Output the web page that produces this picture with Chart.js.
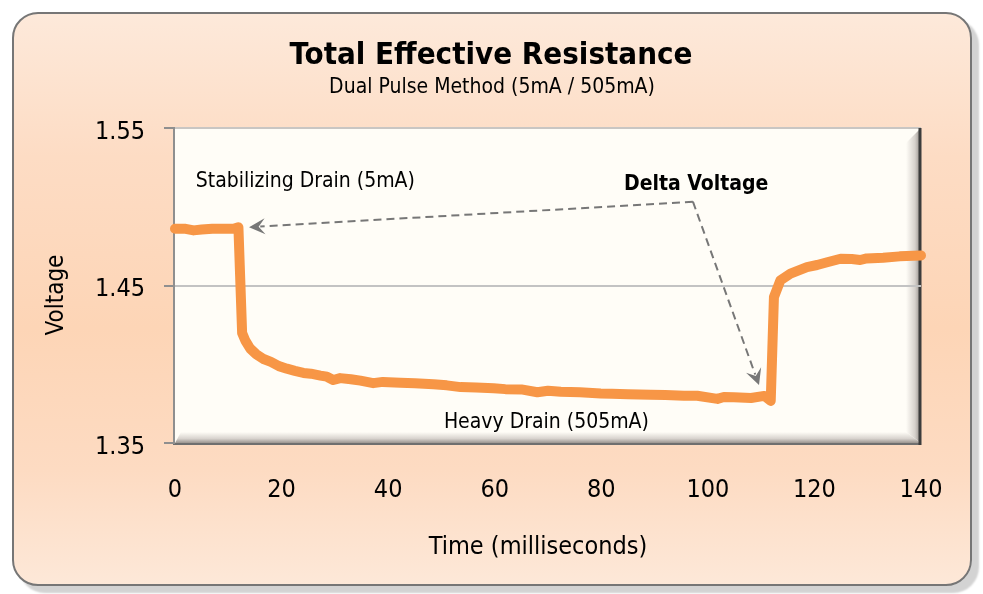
<!DOCTYPE html>
<html>
<head>
<meta charset="utf-8">
<script src="https://cdn.jsdelivr.net/npm/chart.js@4.4.0/dist/chart.umd.min.js"></script>
<style>
html,body{margin:0;padding:0;background:#fff;width:983px;height:594px;overflow:hidden}
#frame{position:absolute;left:12px;top:12px;width:956px;height:570px;border:2px solid #767676;border-radius:26px;
background:linear-gradient(to bottom,#fde9da 0%,#fddcc4 25%,#fdd5b6 55%,#fddbc2 80%,#fde8d8 100%);box-shadow:7px 7px 2px #d3d3d3;}
#wrap{position:absolute;left:0;top:0;width:983px;height:594px}
</style>
</head>
<body>
<div id="frame"></div>
<div id="wrap"><canvas id="c" width="983" height="594"></canvas></div>
<script>
const chartTitle = 'Total Effective Resistance';
const chartSubtitle = 'Dual Pulse Method (5mA / 505mA)';
const xTitle = 'Time (milliseconds)';
const yTitle = 'Voltage';
const xTicks = [0, 20, 40, 60, 80, 100, 120, 140];
const yTicks = [1.35, 1.45, 1.55];

const times = [0, 2, 3.5, 5, 7, 9, 11, 11.9,
  12.6, 13.2, 14.1, 15.2, 16.5, 18, 19.5, 21, 22.5, 24.1,
  25.5, 27.3, 28.5, 29.7, 31, 33, 34.8, 37.2, 39, 42.3,
  45, 48.5, 51, 53.6, 56.5, 59.8, 62, 65, 68, 70,
  72.4, 76, 79.9, 82, 85, 89.3, 92, 95.5, 98, 101.8,
  103, 104.9, 108.1, 110.6, 111.8, 112.4, 113.6, 115.5, 118.6, 120.5,
  122.4, 124.9, 127, 128.6, 129.8, 132.9, 136, 140];
const volts = [1.4860, 1.4860, 1.4850, 1.4855, 1.4860, 1.4860, 1.4860, 1.4870,
  1.4198, 1.4150, 1.4100, 1.4065, 1.4035, 1.4015, 1.3988, 1.3972, 1.3958, 1.3945,
  1.3940, 1.3928, 1.3921, 1.3900, 1.3912, 1.3905, 1.3896, 1.3880, 1.3888, 1.3883,
  1.3880, 1.3873, 1.3866, 1.3855, 1.3852, 1.3847, 1.3842, 1.3840, 1.3822, 1.3832,
  1.3826, 1.3822, 1.3815, 1.3813, 1.3810, 1.3806, 1.3804, 1.3800, 1.3800, 1.3780,
  1.3792, 1.3790, 1.3786, 1.3799, 1.3767, 1.4426, 1.4532, 1.4575, 1.4617, 1.4630,
  1.4648, 1.4670, 1.4668, 1.4662, 1.4672, 1.4676, 1.4685, 1.4691];

// annotation labels (position in data units: time, voltage)
const labelTexts = ['Stabilizing Drain (5mA)', 'Delta Voltage', 'Heavy Drain (505mA)'];
const labelAt = [[3.9, 1.5125], [97.8, 1.5106], [69.7, 1.3593]];
// arrows: shared start point and two tips (data units)
const arrowFrom = [97.2, 1.5032];
const arrowTips = [[13.9, 1.4870], [109.6, 1.3868]];

const COND = "'DejaVu Sans Condensed', 'DejaVu Sans', sans-serif";

const points = times.map((t, i) => ({x: t, y: volts[i]}));

const framePlugin = {
  id: 'frame',
  beforeDraw(chart) {
    const ctx = chart.ctx;
    const {left: L, right: R, top: T, bottom: B} = chart.chartArea;
    ctx.save();
    ctx.fillStyle = '#fffdf7';
    ctx.fillRect(L, T, R - L, B - T);
    const d = 15, e = 11;
    let g = ctx.createLinearGradient(R - d, 0, R, 0);
    g.addColorStop(0, 'rgba(255,253,247,1)');
    g.addColorStop(0.6, '#d6d1cc');
    g.addColorStop(1, '#8d8782');
    ctx.fillStyle = g;
    ctx.beginPath();
    ctx.moveTo(R, T); ctx.lineTo(R, B); ctx.lineTo(R - d, B - e); ctx.lineTo(R - d, T + d); ctx.closePath();
    ctx.fill();
    g = ctx.createLinearGradient(0, B - e, 0, B);
    g.addColorStop(0, 'rgba(255,253,247,1)');
    g.addColorStop(0.6, '#d8d3ce');
    g.addColorStop(1, '#9a948f');
    ctx.fillStyle = g;
    ctx.beginPath();
    ctx.moveTo(L, B); ctx.lineTo(R, B); ctx.lineTo(R - d, B - e); ctx.lineTo(L + 6, B - e); ctx.closePath();
    ctx.fill();
    ctx.strokeStyle = '#c9c6c3'; ctx.lineWidth = 2;
    ctx.beginPath(); ctx.moveTo(L, T); ctx.lineTo(R, T); ctx.stroke();
    ctx.strokeStyle = '#8f8f8f'; ctx.lineWidth = 2;
    ctx.beginPath(); ctx.moveTo(L - 1, T); ctx.lineTo(L - 1, B + 1); ctx.stroke();
    ctx.strokeStyle = '#6f6f6f'; ctx.lineWidth = 2;
    ctx.beginPath(); ctx.moveTo(L - 2, B + 1); ctx.lineTo(R, B + 1); ctx.stroke();
    ctx.strokeStyle = '#3c3c3c'; ctx.lineWidth = 3;
    ctx.beginPath(); ctx.moveTo(R - 1, T); ctx.lineTo(R - 1, B + 2); ctx.stroke();
    ctx.restore();
  }
};

function arrowHead(ctx, x, y, ang, len, w) {
  ctx.save();
  ctx.translate(x, y);
  ctx.rotate(ang);
  ctx.beginPath();
  ctx.moveTo(0, 0);
  ctx.lineTo(-len, -w);
  ctx.lineTo(-len * 0.6, 0);
  ctx.lineTo(-len, w);
  ctx.closePath();
  ctx.fill();
  ctx.restore();
}

const textPlugin = {
  id: 'texts',
  afterDatasetsDraw(chart) {
    const ctx = chart.ctx;
    const xs = chart.scales.x, ys = chart.scales.y;
    ctx.save();
    ctx.fillStyle = '#000';
    ctx.textAlign = 'center';
    ctx.textBaseline = 'alphabetic';
    ctx.font = "bold 31px " + COND;
    ctx.fillText(chartTitle, 491, 64);
    ctx.font = "21px " + COND;
    ctx.fillText(chartSubtitle, 492, 93);
    // axis titles
    ctx.font = "25px " + COND;
    ctx.fillText(xTitle, 538, 554);
    ctx.save();
    ctx.translate(63, 295);
    ctx.rotate(-Math.PI / 2);
    ctx.font = "24px " + COND;
    ctx.fillText(yTitle, 0, 0);
    ctx.restore();
    // arrows
    const fx = xs.getPixelForValue(arrowFrom[0]), fy = ys.getPixelForValue(arrowFrom[1]);
    ctx.strokeStyle = '#777777';
    ctx.fillStyle = '#777777';
    ctx.lineWidth = 2;
    arrowTips.forEach(tp => {
      const tx = xs.getPixelForValue(tp[0]), ty = ys.getPixelForValue(tp[1]);
      const ang = Math.atan2(ty - fy, tx - fx);
      const len = 16;
      const ex = tx - Math.cos(ang) * len * 0.7, ey = ty - Math.sin(ang) * len * 0.7;
      ctx.setLineDash([8, 5]);
      ctx.beginPath(); ctx.moveTo(fx, fy); ctx.lineTo(ex, ey); ctx.stroke();
      ctx.setLineDash([]);
      arrowHead(ctx, tx, ty, ang, len, 8);
    });
    // labels
    ctx.fillStyle = '#000';
    ctx.font = "21px " + COND;
    ctx.textAlign = 'left';
    ctx.fillText(labelTexts[0], xs.getPixelForValue(labelAt[0][0]), ys.getPixelForValue(labelAt[0][1]));
    ctx.font = "bold 21px " + COND;
    ctx.textAlign = 'center';
    ctx.fillText(labelTexts[1], xs.getPixelForValue(labelAt[1][0]), ys.getPixelForValue(labelAt[1][1]));
    ctx.font = "21px " + COND;
    ctx.fillText(labelTexts[2], xs.getPixelForValue(labelAt[2][0]), ys.getPixelForValue(labelAt[2][1]));
    ctx.restore();
  }
};

new Chart(document.getElementById('c'), {
  type: 'line',
  data: {
    datasets: [{
      data: points,
      borderColor: '#f79646',
      borderWidth: 10,
      pointRadius: 0,
      tension: 0,
      borderJoinStyle: 'round',
      borderCapStyle: 'round',
      clip: false
    }]
  },
  options: {
    responsive: false,
    animation: false,
    devicePixelRatio: 1,
    layout: {padding: {left: 20, right: 62, top: 128, bottom: 21}},
    plugins: {legend: {display: false}, tooltip: {enabled: false}, title: {display: false}},
    scales: {
      x: {
        type: 'linear',
        min: 0, max: 140,
        afterBuildTicks: s => { s.ticks = xTicks.map(v => ({value: v})); },
        afterFit: s => { s.height = 130; },
        grid: {display: false, drawTicks: false},
        border: {display: false},
        ticks: {color: '#000', font: {family: COND, size: 25}, padding: 32, maxRotation: 0},
        title: {display: false}
      },
      y: {
        type: 'linear',
        min: 1.35, max: 1.55,
        afterBuildTicks: s => { s.ticks = yTicks.map(v => ({value: v})); },
        afterFit: s => { s.width = 155; },
        grid: {
          color: c => (c.tick && Math.abs(c.tick.value - 1.45) < 1e-6) ? '#c3c3c3' : 'rgba(0,0,0,0)',
          lineWidth: 2,
          tickColor: '#8f8f8f',
          tickLength: 11,
          drawTicks: true
        },
        border: {display: false},
        ticks: {color: '#000', font: {family: COND, size: 25}, padding: 19, labelOffset: 4, callback: v => Number(v).toFixed(2)},
        title: {display: false}
      }
    }
  },
  plugins: [framePlugin, textPlugin]
});
</script>
</body>
</html>
